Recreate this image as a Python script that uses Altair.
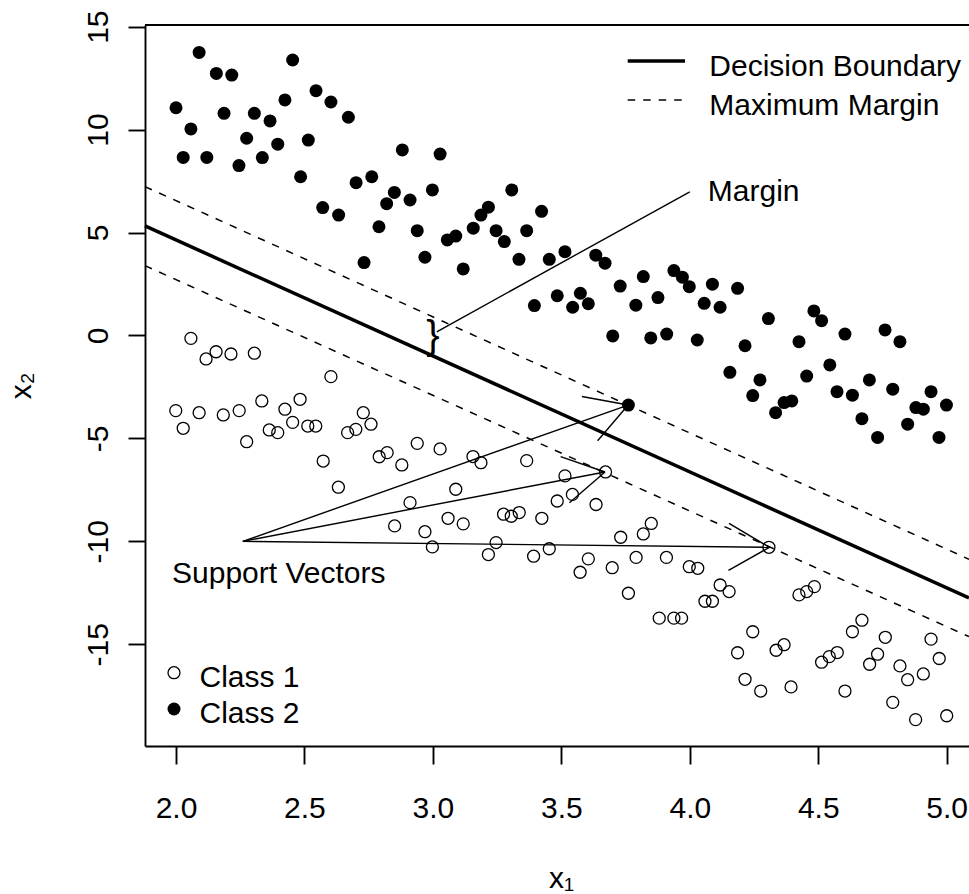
import math
import altair as alt
import pandas as pd

# ---------------- data ----------------
# Class 1 (open circles)
c1_x = [2.058, 2.156, 2.117, 2.214, 2.305, 2.603, 1.999, 2.028, 2.090, 2.184,
        2.246, 2.334, 2.275, 2.363, 2.396, 2.424, 2.483, 2.454, 2.513, 2.544,
        2.573, 2.632, 2.668, 2.700, 2.729, 2.759, 2.791, 2.822, 2.879, 2.939,
        3.028, 3.156, 3.187, 3.365, 3.514, 3.089, 2.911, 2.851, 2.969, 3.059,
        3.118, 3.275, 3.305, 3.336, 3.424, 3.484, 2.998, 3.246, 3.216, 3.392,
        3.453, 3.672, 3.543, 3.635, 3.731, 3.819, 3.850, 3.605, 3.791, 3.909,
        4.308, 3.573, 3.698, 3.998, 4.031, 3.761, 4.118, 4.153, 4.059, 4.088,
        4.425, 4.455, 4.485, 3.881, 3.938, 3.968, 4.245, 4.186, 4.336, 4.367,
        4.670, 4.633, 4.761, 4.939, 4.971, 4.513, 4.543, 4.574, 4.700, 4.731,
        4.818, 4.848, 4.909, 4.215, 4.276, 4.394, 4.604, 4.790, 4.879, 5.000]
c1_y = [-0.14, -0.79, -1.14, -0.90, -0.86, -2.00, -3.65, -4.51, -3.75, -3.86,
        -3.65, -3.18, -5.16, -4.59, -4.72, -3.58, -3.10, -4.22, -4.40, -4.40,
        -6.10, -7.37, -4.72, -4.56, -3.75, -4.31, -5.89, -5.69, -6.29, -5.24,
        -5.51, -5.88, -6.18, -6.08, -6.82, -7.47, -8.12, -9.25, -9.53, -8.88,
        -9.15, -8.68, -8.78, -8.60, -8.88, -8.04, -10.27, -10.06, -10.64, -10.72,
        -10.36, -6.63, -7.72, -8.21, -9.80, -9.64, -9.13, -10.85, -10.78, -10.78,
        -10.29, -11.50, -11.28, -11.23, -11.31, -12.52, -12.12, -12.44, -12.91, -12.91,
        -12.60, -12.44, -12.20, -13.73, -13.73, -13.73, -14.39, -15.41, -15.29, -15.02,
        -13.83, -14.39, -14.66, -14.75, -15.69, -15.87, -15.60, -15.40, -15.97, -15.48,
        -16.05, -16.72, -16.44, -16.70, -17.27, -17.07, -17.27, -17.82, -18.66, -18.47]

# Class 2 (filled circles)
c2_x = [2.090, 2.157, 2.217, 2.454, 2.000, 2.058, 2.028, 2.120, 2.187, 2.275,
        2.305, 2.366, 2.245, 2.336, 2.396, 2.424, 2.515, 2.485, 2.545, 2.603,
        2.671, 2.571, 2.633, 2.701, 2.762, 2.881, 3.028, 2.850, 2.820, 2.911,
        2.998, 2.790, 2.939, 2.969, 2.732, 3.056, 3.089, 3.118, 3.157, 3.187,
        3.216, 3.246, 3.278, 3.307, 3.335, 3.365, 3.395, 3.423, 3.453, 3.514,
        3.484, 3.574, 3.544, 3.605, 3.634, 3.670, 3.729, 3.819, 3.790, 3.876,
        3.700, 3.848, 3.938, 3.971, 3.998, 4.088, 4.186, 4.056, 4.118, 3.910,
        4.029, 4.306, 4.483, 4.513, 4.215, 4.425, 4.604, 4.760, 4.818, 4.156,
        4.273, 4.245, 4.455, 4.545, 4.367, 4.397, 4.334, 4.573, 4.633, 4.699,
        4.790, 4.939, 4.999, 4.880, 4.909, 4.670, 4.848, 4.731, 4.970, 3.761]
c2_y = [13.75, 12.73, 12.65, 13.38, 11.06, 10.03, 8.65, 8.65, 10.79, 9.58,
        10.79, 10.42, 8.25, 8.64, 9.29, 11.44, 9.49, 7.71, 11.89, 11.34,
        10.60, 6.21, 5.85, 7.42, 7.71, 9.01, 8.81, 6.95, 6.40, 6.58,
        7.07, 5.28, 5.09, 3.80, 3.54, 4.64, 4.83, 3.23, 5.21, 5.85,
        6.23, 5.09, 4.56, 7.07, 3.70, 5.09, 1.45, 6.03, 3.70, 4.07,
        1.93, 2.05, 1.37, 1.54, 3.90, 3.51, 2.40, 2.86, 1.47, 1.84,
        -0.02, -0.12, 3.15, 2.83, 2.37, 2.49, 2.29, 1.56, 1.37, 0.07,
        -0.22, 0.82, 1.19, 0.72, -0.50, -0.30, 0.07, 0.27, -0.30, -1.79,
        -2.16, -2.92, -1.97, -1.43, -3.26, -3.18, -3.75, -2.73, -2.90, -2.16,
        -2.61, -2.73, -3.38, -3.50, -3.58, -4.04, -4.31, -4.95, -4.95, -3.38]

# axis ranges and ticks
x_domain = [1.8793, 5.0868]
y_domain = [-19.94, 15.08]
x_ticks = [2.0, 2.5, 3.0, 3.5, 4.0, 4.5, 5.0]
y_ticks = [-15, -10, -5, 0, 5, 10, 15]

# decision boundary and margins: y at the left and right edges of the plot
line_x = [x_domain[0], x_domain[1]]
boundary_y = [5.32, -12.75]
upper_y = [7.23, -10.87]
lower_y = [3.39, -14.63]

# support vectors and annotation anchors
sv_x = [3.76, 3.67, 4.31]
sv_y = [-3.38, -6.63, -10.29]
sv_label_from = (2.26, -10.0)
sv_text = (2.40, -12.03)
margin_seg_x = [3.015, 4.0]
margin_seg_y = [0.18, 6.98]
margin_text = (4.0, 6.51)
brace_pos = (3.0, -0.05)

# ---------------- styling ----------------
W, H = 824, 721
FONT = "Liberation Sans"
FS = 30
ARROW_LEN = 47  # px
LW = 1.9

xs = alt.Scale(domain=x_domain, nice=False, zero=False)
ys = alt.Scale(domain=y_domain, nice=False, zero=False)

x_axis = alt.Axis(values=x_ticks, labelExpr="format(datum.value, '.1f')",
                  grid=False, domainColor="black", domainWidth=LW,
                  tickColor="black", tickWidth=LW, tickSize=18,
                  labelFont=FONT, labelFontSize=FS, labelColor="black",
                  labelBaseline="alphabetic", labelPadding=53, labelFlush=False,
                  labelOverlap=False, labelBound=False,
                  title="x\u2081", titleFont=FONT, titleFontSize=FS,
                  titleFontWeight="normal", titleColor="black",
                  titleX=416, titleY=141, titleBaseline="alphabetic",
                  titleAlign="center")
y_axis = alt.Axis(values=y_ticks, labelExpr="'' + datum.value",
                  grid=False, domainColor="black", domainWidth=LW,
                  tickColor="black", tickWidth=LW, tickSize=17,
                  labelFont=FONT, labelFontSize=FS, labelColor="black",
                  labelAngle=270, labelAlign="center", labelBaseline="alphabetic",
                  labelPadding=21, labelFlush=False, labelOverlap=False,
                  labelBound=False,
                  title="x\u2082", titleFont=FONT, titleFontSize=FS,
                  titleFontWeight="normal", titleColor="black",
                  titleAngle=270, titleX=-114.5, titleY=H / 2,
                  titleBaseline="alphabetic", titleAlign="center")


def X(f="x"):
    return alt.X(f, type="quantitative", scale=xs, axis=x_axis)


def Y(f="y"):
    return alt.Y(f, type="quantitative", scale=ys, axis=y_axis)


c1_df = pd.DataFrame({"x": c1_x, "y": c1_y})
c2_df = pd.DataFrame({"x": c2_x, "y": c2_y})

open_pts = alt.Chart(c1_df).mark_point(
    shape="circle", filled=False, size=144, strokeWidth=1.3,
    color="black", opacity=1).encode(x=X(), y=Y())
filled_pts = alt.Chart(c2_df).mark_circle(
    size=169, color="black", opacity=1).encode(x=X(), y=Y())

lines_df = pd.DataFrame({
    "x": line_x * 3,
    "y": boundary_y + upper_y + lower_y,
    "kind": ["boundary"] * 2 + ["upper"] * 2 + ["lower"] * 2,
})
boundary = alt.Chart(lines_df).transform_filter(
    alt.datum.kind == "boundary").mark_line(
    color="black", strokeWidth=3.5).encode(x=X(), y=Y())
margins = alt.Chart(lines_df).transform_filter(
    alt.datum.kind != "boundary").mark_line(
    color="black", strokeWidth=1.5, strokeDash=[7.5, 8]).encode(
    x=X(), y=Y(), detail="kind:N")

# arrows (shaft + two head strokes) computed from the data ends
kx = W / (x_domain[1] - x_domain[0])
ky = H / (y_domain[1] - y_domain[0])
segs = []
x0, y0 = sv_label_from
for x1, y1 in zip(sv_x, sv_y):
    segs.append({"x": x0, "y": y0, "x2": x1, "y2": y1})
    ang = math.atan2((y1 - y0) * ky, (x1 - x0) * kx)
    for s in (1, -1):
        a = ang + math.pi + s * math.radians(30)
        segs.append({"x": x1 + ARROW_LEN * math.cos(a) / kx,
                     "y": y1 + ARROW_LEN * math.sin(a) / ky,
                     "x2": x1, "y2": y1})
segs.append({"x": margin_seg_x[0], "y": margin_seg_y[0],
             "x2": margin_seg_x[1], "y2": margin_seg_y[1]})
seg_df = pd.DataFrame(segs)
seg_layer = alt.Chart(seg_df).mark_rule(color="black", strokeWidth=1.4).encode(
    x=X(), y=Y(), x2="x2:Q", y2="y2:Q")

ann_df = pd.DataFrame({"x": [margin_text[0]], "y": [margin_text[1]], "t": ["Margin"]})
margin_lbl = alt.Chart(ann_df).mark_text(
    font=FONT, fontSize=FS, align="left", baseline="alphabetic", dx=18,
    color="black").encode(x=X(), y=Y(), text="t:N")
sv_df = pd.DataFrame({"x": [sv_text[0]], "y": [sv_text[1]], "t": ["Support Vectors"]})
sv_lbl = alt.Chart(sv_df).mark_text(
    font=FONT, fontSize=FS, align="center", baseline="alphabetic",
    color="black").encode(x=X(), y=Y(), text="t:N")
brace_df = pd.DataFrame({"x": [brace_pos[0]], "y": [brace_pos[1]], "t": ["}"]})
brace = alt.Chart(brace_df).mark_text(
    font=FONT, fontSize=40, align="center", baseline="middle",
    color="black").encode(x=X(), y=Y(), text="t:N")

# ---------------- legends (drawn like R's legend()) ----------------
one = pd.DataFrame({"a": [0]})


def ltext(txt, px, py):
    return alt.Chart(one).mark_text(
        text=txt, font=FONT, fontSize=FS, align="left", baseline="alphabetic",
        color="black").encode(x=alt.value(px), y=alt.value(py))


leg_solid = alt.Chart(one).mark_rule(color="black", strokeWidth=3.5).encode(
    x=alt.value(482.7), x2=alt.value(540), y=alt.value(36))
leg_dash = alt.Chart(one).mark_rule(color="black", strokeWidth=1.5,
                                    strokeDash=[7.5, 8]).encode(
    x=alt.value(482.7), x2=alt.value(537), y=alt.value(75))
leg_open = alt.Chart(one).mark_point(
    shape="circle", filled=False, size=144, strokeWidth=1.3, color="black",
    opacity=1).encode(x=alt.value(29), y=alt.value(647.7))
leg_fill = alt.Chart(one).mark_circle(size=169, color="black", opacity=1).encode(
    x=alt.value(29), y=alt.value(684))

top_border = alt.Chart(one).mark_rule(color="black", strokeWidth=LW).encode(
    x=alt.value(0), x2=alt.value(W), y=alt.value(0))

chart = alt.layer(
    open_pts, filled_pts, boundary, margins, seg_layer,
    margin_lbl, sv_lbl, brace,
    leg_solid, leg_dash,
    ltext("Decision Boundary", 564.3, 51),
    ltext("Maximum Margin", 564.3, 90),
    leg_open, leg_fill,
    ltext("Class 1", 54.5, 661.7),
    ltext("Class 2", 54.5, 698),
    top_border,
).properties(
    width=W, height=H, autosize="none",
    padding={"left": 145, "top": 25, "right": 0, "bottom": 148},
    background="white",
).configure_view(strokeWidth=0)

chart.save("out.html", embed_options={"renderer": "svg", "actions": False})
